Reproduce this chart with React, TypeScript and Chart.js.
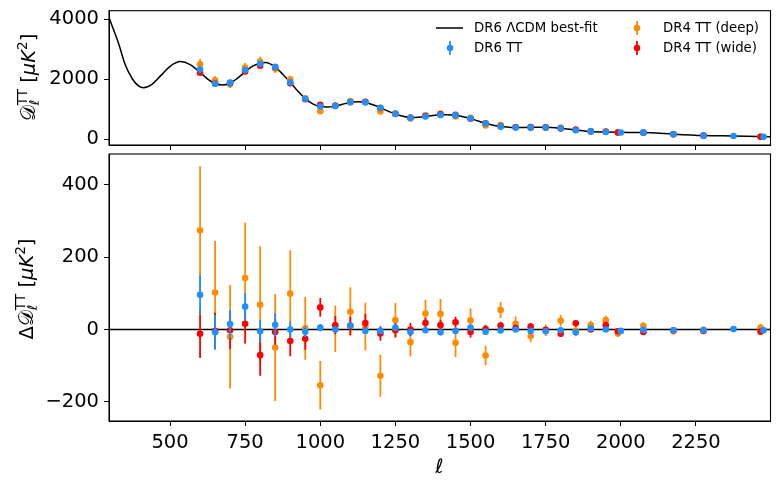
import { useEffect, useRef } from 'react';
import { Chart, registerables } from 'chart.js';

Chart.register(...registerables);

const FAMILY = '"DejaVu Sans", sans-serif';
const BLUE = '#1e90ff';
const ORANGE = '#ff8c00';
const RED = '#ff0000';

const X_MIN = 297;
const X_MAX = 2498;
const xTicks = [500, 750, 1000, 1250, 1500, 1750, 2000, 2250];
const topYTicks = [0, 2000, 4000];
const botYTicks = [-200, 0, 200, 400];

// best-fit theory curve
const theoryEll = [295, 310, 330, 350, 375, 395, 412, 440, 470, 500, 534, 568, 600, 630, 650, 673, 700, 725, 750, 775, 800, 818, 850, 875, 900, 925, 950, 975, 1000, 1025, 1050, 1075, 1100, 1125, 1150, 1175, 1200, 1225, 1250, 1275, 1300, 1325, 1350, 1375, 1400, 1425, 1450, 1475, 1500, 1525, 1550, 1575, 1600, 1625, 1650, 1700, 1750, 1800, 1850, 1900, 1950, 2000, 2050, 2100, 2175, 2275, 2375, 2500];
const theoryDl = [4100, 3700, 3150, 2500, 2000, 1770, 1710, 1820, 2120, 2420, 2580, 2470, 2220, 1960, 1850, 1800, 1860, 2030, 2240, 2430, 2520, 2550, 2400, 2160, 1885, 1600, 1345, 1170, 1080, 1065, 1097, 1160, 1219, 1240, 1222, 1140, 1042, 930, 834, 755, 716, 725, 750, 785, 806, 810, 790, 745, 680, 600, 522, 460, 415, 395, 385, 388, 388, 358, 302, 250, 232, 222, 215, 205, 160, 115, 100, 76];

// ACT DR6 TT bandpowers
const dr6Ell = [600, 650, 700, 750, 800, 850, 900, 950, 1000, 1050, 1100, 1150, 1200, 1250, 1300, 1350, 1400, 1450, 1500, 1550, 1600, 1650, 1700, 1750, 1800, 1850, 1900, 1950, 2000, 2075, 2175, 2275, 2375, 2475];
const dr6Dl = [2316, 1844, 1878, 2300, 2511, 2411, 1889, 1344, 1085, 1100, 1230, 1220, 1040, 838, 710, 748, 800, 786, 685, 516, 412, 385, 384, 383, 356, 294, 253, 232, 218, 212, 158, 113, 101, 75];
const dr6Res = [96, -8, 15, 63, -5, 13, 0, -6, 5, 0, 11, -4, -4, 5, -7, -2, -8, -4, 5, -6, -3, 0, -4, -5, -2, -8, 3, 0, -4, -1, -2, -2, 1, -2];
const dr6Err = [55, 48, 40, 38, 31, 32, 22, 15, 10, 8, 7, 6, 6, 5, 5, 5, 4, 4, 4, 4, 3, 3, 3, 3, 3, 3, 3, 3, 3, 3, 3, 3, 3, 3];

// ACT DR4 TT bandpowers (deep and wide)
const dr4Ell = [600, 650, 700, 750, 800, 850, 900, 950, 1000, 1050, 1100, 1150, 1200, 1250, 1300, 1350, 1400, 1450, 1500, 1550, 1600, 1650, 1700, 1750, 1800, 1850, 1900, 1950, 1990, 2075, 2175, 2275, 2465];
const deepDl = [2494, 1954, 1843, 2379, 2584, 2348, 1988, 1353, 926, 1102, 1268, 1232, 916, 859, 682, 794, 851, 753, 705, 450, 469, 401, 370, 386, 382, 298, 262, 258, 212, 223, 155, 114, 83];
const deepRes = [274, 102, -20, 142, 68, -50, 99, 3, -154, 2, 49, 8, -128, 26, -35, 44, 43, -37, 25, -72, 54, 16, -18, -2, 24, -4, 12, 26, -11, 10, -5, -1, 5];
const deepErr = [177, 143, 143, 153, 162, 148, 120, 87, 67, 64, 68, 66, 58, 47, 40, 38, 41, 39, 33, 27, 22, 20, 17, 16, 16, 15, 12, 12, 10, 10, 9, 9, 10];
const wideDl = [2208, 1848, 1861, 2253, 2445, 2391, 1857, 1324, 1141, 1112, 1229, 1242, 1033, 831, 717, 768, 820, 810, 673, 523, 426, 389, 396, 387, 346, 319, 250, 244, 218, 206, 158, 111, 72];
const wideRes = [-12, -4, -2, 16, -71, -7, -32, -26, 61, 12, 10, 18, -11, -2, 0, 18, 12, 20, -7, 1, 11, 4, 8, -1, -12, 17, 0, 12, -5, -7, -2, -4, -6];
const wideErr = [67, 50, 52, 55, 57, 35, 42, 30, 26, 25, 25, 25, 20, 20, 18, 15, 15, 15, 15, 12, 10, 10, 10, 8, 8, 8, 7, 7, 6, 6, 6, 6, 8];

const pts = (xs: number[], ys: number[]) => xs.map((x, i) => ({ x, y: ys[i] }));

const fmt = (v: number) => (v < 0 ? '\u2212' + Math.abs(v) : String(v));

const errorBars = {
  id: 'errorBars',
  beforeDatasetDraw(chart: any, args: any) {
    const ds = chart.data.datasets[args.index];
    if (!ds.errors) return;
    const { ctx, chartArea } = chart;
    const ys = chart.scales.y;
    ctx.save();
    ctx.beginPath();
    ctx.rect(chartArea.left, chartArea.top, chartArea.width, chartArea.height);
    ctx.clip();
    ctx.strokeStyle = ds.backgroundColor;
    ctx.lineWidth = 1.8;
    args.meta.data.forEach((el: any, i: number) => {
      const v = ds.data[i].y;
      const e = ds.errors[i];
      ctx.beginPath();
      ctx.moveTo(el.x, ys.getPixelForValue(v - e));
      ctx.lineTo(el.x, ys.getPixelForValue(v + e));
      ctx.stroke();
    });
    ctx.restore();
  },
};

const frame = {
  id: 'frame',
  afterDraw(chart: any) {
    const { ctx, chartArea: a } = chart;
    ctx.save();
    ctx.strokeStyle = '#000';
    ctx.lineWidth = 1.1;
    ctx.strokeRect(a.left, a.top, a.right - a.left, a.bottom - a.top);
    ctx.restore();
  },
};

// rotated mathtext-like y label
function drawYLabel(ctx: CanvasRenderingContext2D, cx: number, cy: number, delta: boolean) {
  const big = `19.5px ${FAMILY}`;
  const small = `13.6px ${FAMILY}`;
  const runs: { t: string; f: string; dy: number; sub?: string; subF?: string }[] = [];
  if (delta) runs.push({ t: 'Δ', f: big, dy: 0 });
  runs.push({ t: '𝒟', f: big, dy: 0 });
  runs.push({ t: 'TT', f: small, dy: -8, sub: 'ℓ', subF: `italic ${small}` });
  runs.push({ t: ' [', f: big, dy: 0 });
  runs.push({ t: 'μK', f: `italic ${big}`, dy: 0 });
  runs.push({ t: '2', f: small, dy: -8 });
  runs.push({ t: ']', f: big, dy: 0 });
  ctx.save();
  ctx.translate(cx, cy);
  ctx.rotate(-Math.PI / 2);
  ctx.fillStyle = '#000';
  ctx.textBaseline = 'alphabetic';
  ctx.textAlign = 'left';
  const widths = runs.map((r) => {
    ctx.font = r.f;
    let w = ctx.measureText(r.t).width;
    if (r.sub) {
      ctx.font = r.subF!;
      w = Math.max(w, ctx.measureText(r.sub).width);
    }
    return w;
  });
  const total = widths.reduce((s, w) => s + w, 0);
  let x = -total / 2;
  runs.forEach((r, i) => {
    ctx.font = r.f;
    ctx.fillText(r.t, x, r.dy);
    if (r.sub) {
      ctx.font = r.subF!;
      ctx.fillText(r.sub, x, 4);
    }
    x += widths[i];
  });
  ctx.restore();
}

const topDecor = {
  id: 'topDecor',
  afterDraw(chart: any) {
    const ctx = chart.ctx as CanvasRenderingContext2D;
    drawYLabel(ctx, 35, 77.5, false);
    ctx.save();
    ctx.font = `13.3px ${FAMILY}`;
    ctx.textBaseline = 'middle';
    ctx.fillStyle = '#000';
    // legend
    ctx.strokeStyle = '#000';
    ctx.lineWidth = 1.5;
    ctx.beginPath();
    ctx.moveTo(436, 28);
    ctx.lineTo(463, 28);
    ctx.stroke();
    ctx.fillText('DR6 ΛCDM best-fit', 474, 28.5);
    const items = [
      { x: 450, y: 48, c: BLUE, t: 'DR6 TT', tx: 474 },
      { x: 637, y: 28, c: ORANGE, t: 'DR4 TT (deep)', tx: 663 },
      { x: 637, y: 48, c: RED, t: 'DR4 TT (wide)', tx: 663 },
    ];
    items.forEach((it) => {
      ctx.strokeStyle = it.c;
      ctx.lineWidth = 1.8;
      ctx.beginPath();
      ctx.moveTo(it.x, it.y - 7);
      ctx.lineTo(it.x, it.y + 7);
      ctx.stroke();
      ctx.fillStyle = it.c;
      ctx.beginPath();
      ctx.arc(it.x, it.y, 3.3, 0, Math.PI * 2);
      ctx.fill();
      ctx.fillStyle = '#000';
      ctx.fillText(it.t, it.tx, it.y + 0.5);
    });
    ctx.restore();
  },
};

const botDecor = {
  id: 'botDecor',
  beforeDatasetsDraw(chart: any) {
    const { ctx, chartArea: a } = chart;
    const y = chart.scales.y.getPixelForValue(0);
    ctx.save();
    ctx.strokeStyle = '#000';
    ctx.lineWidth = 1.5;
    ctx.beginPath();
    ctx.moveTo(a.left, y);
    ctx.lineTo(a.right, y);
    ctx.stroke();
    ctx.restore();
  },
  afterDraw(chart: any) {
    const ctx = chart.ctx as CanvasRenderingContext2D;
    drawYLabel(ctx, 33, 289 - 150, true);
    ctx.save();
    ctx.font = `italic 20px ${FAMILY}`;
    ctx.fillStyle = '#000';
    ctx.textAlign = 'center';
    ctx.textBaseline = 'alphabetic';
    ctx.fillText('ℓ', 439.5, 473 - 150);
    ctx.restore();
  },
};

function xAxis(showLabels: boolean) {
  return {
    type: 'linear',
    min: X_MIN,
    max: X_MAX,
    afterBuildTicks: (s: any) => {
      s.ticks = xTicks.map((v) => ({ value: v }));
    },
    afterFit: (s: any) => {
      s.height = showLabels ? 68 : 5;
      s.paddingLeft = 0;
      s.paddingRight = 0;
    },
    grid: { drawOnChartArea: false, drawTicks: true, tickLength: 5, color: '#000', lineWidth: 1 },
    border: { display: true, color: '#000', width: 1 },
    ticks: {
      display: showLabels,
      color: '#000',
      font: { family: FAMILY, size: 19.5 },
      padding: 5,
      maxRotation: 0,
      autoSkip: false,
      callback: (v: number) => fmt(v),
    },
  };
}

function yAxis(min: number, max: number, ticks: number[]) {
  return {
    type: 'linear',
    min,
    max,
    afterBuildTicks: (s: any) => {
      s.ticks = ticks.map((v) => ({ value: v }));
    },
    afterFit: (s: any) => {
      s.width = 109;
      s.paddingTop = 0;
      s.paddingBottom = 0;
    },
    grid: { drawOnChartArea: false, drawTicks: true, tickLength: 5, color: '#000', lineWidth: 1 },
    border: { display: true, color: '#000', width: 1 },
    ticks: {
      color: '#000',
      font: { family: FAMILY, size: 19.5 },
      padding: 5,
      autoSkip: false,
      callback: (v: number) => fmt(v),
    },
  };
}

function dots(label: string, color: string, xs: number[], ys: number[], errs: number[]) {
  return {
    label,
    data: pts(xs, ys),
    errors: errs,
    backgroundColor: color,
    borderColor: color,
    pointRadius: 3.3,
    pointBorderWidth: 0,
    showLine: false,
  };
}

const baseOptions = {
  responsive: true,
  maintainAspectRatio: false,
  animation: false,
  plugins: { legend: { display: false }, tooltip: { enabled: false } },
};

export default function App() {
  const topRef = useRef<HTMLCanvasElement>(null);
  const botRef = useRef<HTMLCanvasElement>(null);

  useEffect(() => {
    if (!topRef.current || !botRef.current) return;
    const top = new Chart(topRef.current, {
      type: 'scatter',
      data: {
        datasets: [
          dots('DR6 TT', BLUE, dr6Ell, dr6Dl, dr6Err),
          dots('DR4 TT (wide)', RED, dr4Ell, wideDl, wideErr),
          dots('DR4 TT (deep)', ORANGE, dr4Ell, deepDl, deepErr),
          {
            label: 'DR6 ΛCDM best-fit',
            data: pts(theoryEll, theoryDl),
            showLine: true,
            borderColor: '#000',
            borderWidth: 1.5,
            pointRadius: 0,
            cubicInterpolationMode: 'monotone',
          },
        ],
      } as any,
      options: {
        ...baseOptions,
        layout: { padding: { left: 0, right: 10.5, top: 10.7, bottom: 0 } },
        scales: { x: xAxis(false), y: yAxis(-200, 4277, topYTicks) },
      } as any,
      plugins: [errorBars, frame, topDecor],
    });
    const bot = new Chart(botRef.current, {
      type: 'scatter',
      data: {
        datasets: [
          dots('DR6 TT', BLUE, dr6Ell, dr6Res, dr6Err),
          dots('DR4 TT (wide)', RED, dr4Ell, wideRes, wideErr),
          dots('DR4 TT (deep)', ORANGE, dr4Ell, deepRes, deepErr),
        ],
      } as any,
      options: {
        ...baseOptions,
        layout: { padding: { left: 0, right: 10.5, top: 1.7, bottom: 0 } },
        scales: { x: xAxis(true), y: yAxis(-253, 485, botYTicks) },
      } as any,
      plugins: [errorBars, frame, botDecor],
    });
    return () => {
      top.destroy();
      bot.destroy();
    };
  }, []);

  return (
    <div style={{ position: 'absolute', left: 0, top: 0, width: 781, height: 489, background: '#fff' }}>
      <div style={{ position: 'absolute', left: 0, top: 0, width: 781, height: 150 }}>
        <canvas ref={topRef} />
      </div>
      <div style={{ position: 'absolute', left: 0, top: 150, width: 781, height: 339 }}>
        <canvas ref={botRef} />
      </div>
    </div>
  );
}
